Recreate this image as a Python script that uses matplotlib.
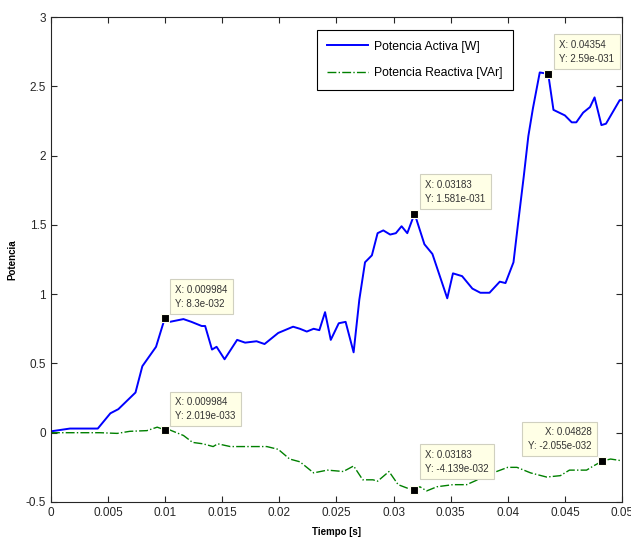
import matplotlib.pyplot as plt

plt.rcParams['font.family'] = ['Liberation Sans', 'DejaVu Sans']

# Potencia activa [W]
t_activa = [0.0, 0.00166, 0.0041, 0.0052, 0.0059, 0.0074, 0.008, 0.0092, 0.00998,
            0.0104, 0.0116, 0.0123, 0.0132, 0.0135, 0.0141, 0.0145, 0.0152,
            0.0163, 0.017, 0.018, 0.0187, 0.0199, 0.0212, 0.0218, 0.0224, 0.023,
            0.0235, 0.024, 0.0245, 0.0252, 0.0258, 0.0265, 0.027, 0.0275, 0.0281,
            0.0286, 0.0291, 0.0297, 0.0302, 0.0307, 0.0312, 0.03183, 0.032, 0.0327,
            0.0334, 0.0347, 0.0352, 0.036, 0.0369, 0.0376, 0.0384, 0.0393, 0.0398,
            0.0405, 0.0409, 0.0414, 0.0418, 0.0422, 0.0428, 0.04354, 0.044, 0.045,
            0.0456, 0.046, 0.0466, 0.0472, 0.0476, 0.0482, 0.0486, 0.0498, 0.05]
p_activa = [0.01, 0.03, 0.03, 0.14, 0.17, 0.29, 0.48, 0.62, 0.83,
            0.80, 0.82, 0.80, 0.77, 0.77, 0.60, 0.62, 0.53,
            0.67, 0.65, 0.66, 0.64, 0.72, 0.765, 0.75, 0.73, 0.75,
            0.74, 0.87, 0.67, 0.79, 0.80, 0.58, 0.96, 1.23, 1.28,
            1.44, 1.46, 1.43, 1.44, 1.49, 1.44, 1.58, 1.54, 1.36,
            1.29, 0.97, 1.15, 1.13, 1.04, 1.01, 1.01, 1.09, 1.08,
            1.23, 1.51, 1.85, 2.14, 2.34, 2.60, 2.59, 2.33, 2.29,
            2.24, 2.24, 2.31, 2.35, 2.42, 2.22, 2.23, 2.40, 2.40]

# Potencia reactiva [VAr]
t_reactiva = [0.0, 0.0043, 0.0058, 0.0069, 0.0084, 0.0093, 0.00998, 0.0104, 0.0116,
              0.0124, 0.0133, 0.0142, 0.0146, 0.0157, 0.0174, 0.0189, 0.0199,
              0.0209, 0.0218, 0.023, 0.0242, 0.0256, 0.0265, 0.0273, 0.0282,
              0.0286, 0.0296, 0.0304, 0.0312, 0.03183, 0.0323, 0.0329, 0.0338,
              0.0352, 0.0364, 0.0387, 0.04, 0.0408, 0.042, 0.0434, 0.0446, 0.0454,
              0.0469, 0.0475, 0.04828, 0.049, 0.0498, 0.05]
p_reactiva = [0.0, 0.0, -0.005, 0.01, 0.015, 0.04, 0.02, 0.02, -0.02,
              -0.07, -0.08, -0.10, -0.08, -0.10, -0.10, -0.10, -0.12,
              -0.19, -0.21, -0.29, -0.27, -0.28, -0.24, -0.34, -0.34,
              -0.35, -0.28, -0.375, -0.40, -0.41, -0.39, -0.42, -0.39,
              -0.375, -0.375, -0.29, -0.25, -0.25, -0.29, -0.32, -0.31, -0.27,
              -0.27, -0.24, -0.205, -0.19, -0.20, -0.20]

# datatips: (x, y, texto, offset en pixeles, alineacion)
tips_x = [0.009984, 0.009984, 0.03183, 0.04354, 0.03183, 0.04828]
tips_y = [0.83, 0.02, 1.58, 2.59, -0.41, -0.205]
tips_txt = ["X: 0.009984\nY: 8.3e-032",
            "X: 0.009984\nY: 2.019e-033",
            "X: 0.03183\nY: 1.581e-031",
            "X: 0.04354\nY: 2.59e-031",
            "X: 0.03183\nY: -4.139e-032",
            "X: 0.04828\nY: -2.055e-032"]
tips_off = [(10, 9), (10, 9), (11, 10), (11, 10), (11, 16), (-11, 10)]
tips_ha = ['left', 'left', 'left', 'left', 'left', 'right']

x_ticks = [0, 0.005, 0.01, 0.015, 0.02, 0.025, 0.03, 0.035, 0.04, 0.045, 0.05]
x_labels = ['0', '0.005', '0.01', '0.015', '0.02', '0.025', '0.03', '0.035', '0.04', '0.045', '0.05']
y_ticks = [-0.5, 0, 0.5, 1, 1.5, 2, 2.5, 3]
y_labels = ['-0.5', '0', '0.5', '1', '1.5', '2', '2.5', '3']

fig = plt.figure(figsize=(6.31, 5.37), dpi=100)
ax = fig.add_axes([0.0808, 0.0652, 0.9049, 0.9031])

ax.plot(t_activa, p_activa, color='#0000ff', lw=1.4, label='Potencia Activa [W]')
ax.plot(t_reactiva, p_reactiva, color='#008000', lw=1.0, ls='-.', label='Potencia Reactiva [VAr]')

for i in range(len(tips_x)):
    ax.plot(tips_x[i], tips_y[i], 's', color='black', ms=5.5, mec='#fffff0', mew=0.8, zorder=5)
    ax.annotate(tips_txt[i], (tips_x[i], tips_y[i]), xytext=tips_off[i],
                textcoords='offset pixels', ha=tips_ha[i], va='bottom',
                fontsize=7, color='#333333', linespacing=1.5, zorder=6,
                bbox=dict(boxstyle='square,pad=0.55', fc='#ffffe6', ec='#d0d0c0', lw=0.8))

ax.set_xlim(0, 0.05)
ax.set_ylim(-0.5, 3)
ax.set_xticks(x_ticks)
ax.set_xticklabels(x_labels)
ax.set_yticks(y_ticks)
ax.set_yticklabels(y_labels)
ax.tick_params(direction='in', top=True, right=True, labelsize=8.5,
               colors='#262626', length=4, width=0.8)
for s in ax.spines.values():
    s.set_color('#262626')
    s.set_linewidth(0.8)

ax.set_xlabel('Tiempo [s]', fontsize=7, fontweight='bold', labelpad=6)
ax.set_ylabel('Potencia', fontsize=7, fontweight='bold', labelpad=6)

leg = ax.legend(loc='upper left', bbox_to_anchor=(0.466, 0.973), borderaxespad=0,
                fontsize=8.8, fancybox=False, edgecolor='black', framealpha=1,
                handlelength=3.3, handletextpad=0.5, labelspacing=1.2,
                borderpad=0.85)
leg.get_frame().set_linewidth(0.8)

fig.savefig('out.png', dpi=100)
